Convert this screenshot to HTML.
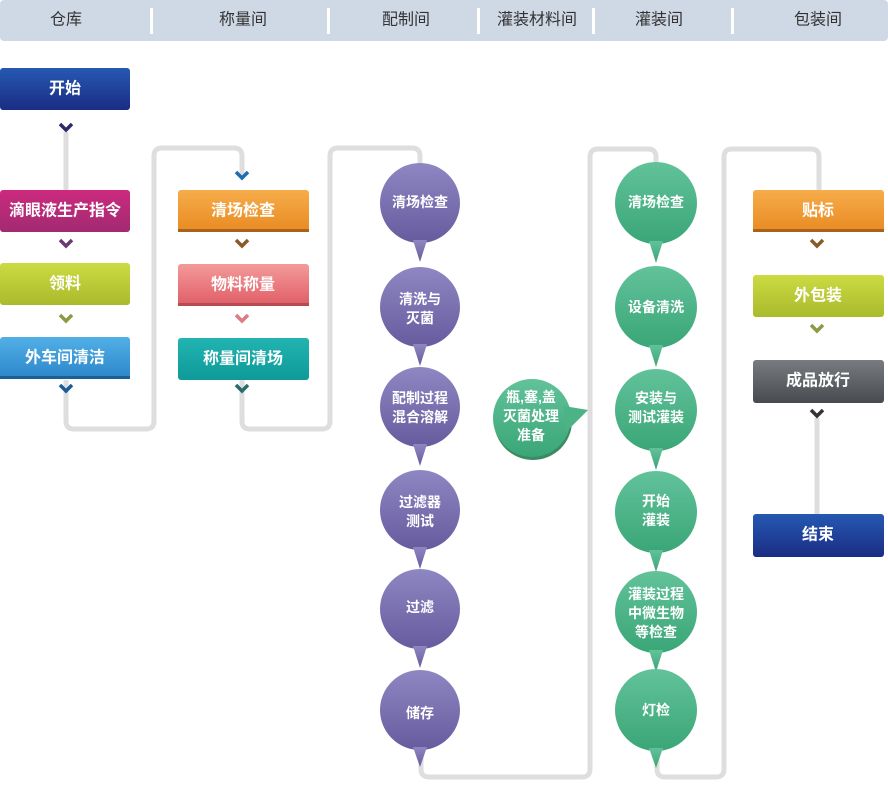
<!DOCTYPE html>
<html><head><meta charset="utf-8"><style>
html,body{margin:0;padding:0;background:#fff;}
svg{display:block;}
text{font-family:"Liberation Sans","Noto Sans CJK SC",sans-serif;}
</style></head><body>
<svg width="888" height="791" viewBox="0 0 888 791" xmlns="http://www.w3.org/2000/svg">
<defs>
<linearGradient id="gBlue" x1="0" y1="0" x2="0" y2="1"><stop offset="0" stop-color="#2559b2"/><stop offset="1" stop-color="#1b2c84"/></linearGradient>
<linearGradient id="gMag" x1="0" y1="0" x2="0" y2="1"><stop offset="0" stop-color="#cc2a7e"/><stop offset="1" stop-color="#a22a70"/></linearGradient>
<linearGradient id="gLime" x1="0" y1="0" x2="0" y2="1"><stop offset="0" stop-color="#ccdb42"/><stop offset="1" stop-color="#a9ba2c"/></linearGradient>
<linearGradient id="gSky" x1="0" y1="0" x2="0" y2="1"><stop offset="0" stop-color="#52b0e6"/><stop offset="1" stop-color="#2a86c9"/></linearGradient>
<linearGradient id="gOr" x1="0" y1="0" x2="0" y2="1"><stop offset="0" stop-color="#f6ad4a"/><stop offset="1" stop-color="#e98a22"/></linearGradient>
<linearGradient id="gPink" x1="0" y1="0" x2="0" y2="1"><stop offset="0" stop-color="#f49a9a"/><stop offset="1" stop-color="#df5d66"/></linearGradient>
<linearGradient id="gTeal" x1="0" y1="0" x2="0" y2="1"><stop offset="0" stop-color="#22b4b2"/><stop offset="1" stop-color="#0e9a98"/></linearGradient>
<linearGradient id="gGray" x1="0" y1="0" x2="0" y2="1"><stop offset="0" stop-color="#787c80"/><stop offset="1" stop-color="#474b4f"/></linearGradient>
<linearGradient id="gPur" x1="0" y1="0" x2="0" y2="1"><stop offset="0" stop-color="#8e87c2"/><stop offset="1" stop-color="#675b9e"/></linearGradient>
<linearGradient id="gGrn" x1="0" y1="0" x2="0" y2="1"><stop offset="0" stop-color="#62c29a"/><stop offset="1" stop-color="#3aa677"/></linearGradient>
</defs>

<!-- header -->
<rect x="0" y="0" width="888" height="41" rx="4" fill="#cfd9e6"/>
<g fill="#ffffff">
<rect x="150" y="8" width="3" height="26"/>
<rect x="327" y="8" width="3" height="26"/>
<rect x="477" y="8" width="3" height="26"/>
<rect x="592" y="8" width="3" height="26"/>
<rect x="731" y="8" width="3" height="26"/>
</g>
<g font-size="16" fill="#333" text-anchor="middle" dominant-baseline="central">
<text x="66" y="20">仓库</text>
<text x="243" y="20">称量间</text>
<text x="406" y="20">配制间</text>
<text x="537" y="20">灌装材料间</text>
<text x="659" y="20">灌装间</text>
<text x="818" y="20">包装间</text>
</g>

<!-- connectors -->
<g fill="none" stroke="#dedede" stroke-width="5" stroke-linejoin="round">
<path d="M66 132 V190"/>
<path d="M66 380 V421 Q66 429 74 429 H146 Q154 429 154 421 V156 Q154 148 162 148 H234 Q242 148 242 156 V176"/>
<path d="M242 380 V421 Q242 429 250 429 H322 Q330 429 330 421 V156 Q330 148 338 148 H412 Q420 148 420 156 V170"/>
<path d="M421 740 V769 Q421 777 429 777 H582 Q590 777 590 769 V157 Q590 149 598 149 H648 Q656 149 656 157 V170"/>
<path d="M657 740 V769 Q657 777 665 777 H716 Q724 777 724 769 V157 Q724 149 732 149 H811 Q819 149 819 157 V190"/>
<path d="M817 418 V514"/>
</g>

<!-- boxes -->
<g>
<rect x="0" y="68" width="130" height="42" rx="3" fill="url(#gBlue)"/>
<rect x="0" y="190" width="130" height="42" rx="3" fill="url(#gMag)"/>
<rect x="0" y="263" width="130" height="42" rx="3" fill="url(#gLime)"/>
<rect x="0" y="337" width="130" height="42" rx="3" fill="url(#gSky)"/>
<rect x="0" y="376" width="130" height="3" fill="#1c5f97"/>
<rect x="178" y="190" width="131" height="42" rx="3" fill="url(#gOr)"/>
<rect x="178" y="229" width="131" height="3" fill="#a8621f"/>
<rect x="178" y="264" width="131" height="42" rx="3" fill="url(#gPink)"/>
<rect x="178" y="303" width="131" height="3" fill="#b84a52"/>
<rect x="178" y="338" width="131" height="42" rx="3" fill="url(#gTeal)"/>
<rect x="753" y="190" width="131" height="42" rx="3" fill="url(#gOr)"/>
<rect x="753" y="229" width="131" height="3" fill="#a8621f"/>
<rect x="753" y="275" width="131" height="42" rx="3" fill="url(#gLime)"/>
<rect x="753" y="360" width="131" height="43" rx="3" fill="url(#gGray)"/>
<rect x="753" y="514" width="131" height="43" rx="3" fill="url(#gBlue)"/>
</g>
<g font-size="16" font-weight="bold" fill="#fff" text-anchor="middle" dominant-baseline="central">
<text x="65" y="89">开始</text>
<text x="65" y="211">滴眼液生产指令</text>
<text x="65" y="284">领料</text>
<text x="65" y="358">外车间清洁</text>
<text x="243" y="211">清场检查</text>
<text x="243" y="285">物料称量</text>
<text x="243" y="359">称量间清场</text>
<text x="818" y="211">贴标</text>
<text x="818" y="296">外包装</text>
<text x="818" y="381">成品放行</text>
<text x="818" y="535">结束</text>
</g>

<!-- chevrons -->
<g fill="none" stroke-width="3.5" stroke-linecap="butt" stroke-linejoin="miter">
<path d="M60 124 L66 130 L72 124" stroke="#2b2a6a"/>
<path d="M60 240 L66 246 L72 240" stroke="#6a3a72"/>
<path d="M60 315 L66 321 L72 315" stroke="#8d9a44"/>
<path d="M60 385 L66 391 L72 385" stroke="#1b5a98"/>
<path d="M236 172 L242 178 L248 172" stroke="#1f6db0"/>
<path d="M236 240 L242 246 L248 240" stroke="#8a5a2c"/>
<path d="M236 315 L242 321 L248 315" stroke="#e07a82"/>
<path d="M236 385 L242 391 L248 385" stroke="#2a6a6e"/>
<path d="M811 240 L817 246 L823 240" stroke="#8a5a2c"/>
<path d="M811 325 L817 331 L823 325" stroke="#8d9a44"/>
<path d="M811 410 L817 416 L823 410" stroke="#333333"/>
</g>

<!-- purple bubbles -->
<g fill="url(#gPur)">
<circle cx="420" cy="203" r="40"/><polygon points="413,240 427,240 420,262"/>
<circle cx="420" cy="307" r="40"/><polygon points="413,344 427,344 420,366"/>
<circle cx="420" cy="407" r="40"/><polygon points="413,444 427,444 420,466"/>
<circle cx="420" cy="510" r="40"/><polygon points="413,547 427,547 420,569"/>
<circle cx="420" cy="609" r="40"/><polygon points="413,646 427,646 420,668"/>
<circle cx="420" cy="710" r="40"/><polygon points="413,747 427,747 420,767"/>
</g>
<!-- green bubbles -->
<g fill="url(#gGrn)">
<circle cx="656" cy="203" r="41"/><polygon points="649,241 663,241 656,263"/>
<circle cx="656" cy="307" r="41"/><polygon points="649,345 663,345 656,367"/>
<circle cx="656" cy="410" r="41"/><polygon points="649,448 663,448 656,470"/>
<circle cx="656" cy="512" r="41"/><polygon points="649,550 663,550 656,572"/>
<circle cx="656" cy="612" r="41"/><polygon points="649,650 663,650 656,672"/>
<circle cx="656" cy="710" r="41"/><polygon points="649,748 663,748 656,768"/>
</g>
<circle cx="533" cy="421" r="39" fill="#3a8a63"/>
<circle cx="532" cy="418" r="39" fill="url(#gGrn)"/>
<polygon points="564,406 588,410 566,432" fill="#4cb386"/>

<g font-size="14" font-weight="bold" fill="#fff" text-anchor="middle" dominant-baseline="central">
<text x="420" y="202">清场检查</text>
<text x="420" y="299">清洗与</text><text x="420" y="318">灭菌</text>
<text x="420" y="398">配制过程</text><text x="420" y="417">混合溶解</text>
<text x="420" y="502">过滤器</text><text x="420" y="521">测试</text>
<text x="420" y="607">过滤</text>
<text x="420" y="713">储存</text>
<text x="656" y="202">清场检查</text>
<text x="656" y="307">设备清洗</text>
<text x="656" y="398">安装与</text><text x="656" y="417">测试灌装</text>
<text x="656" y="501">开始</text><text x="656" y="520">灌装</text>
<text x="656" y="594">灌装过程</text><text x="656" y="613">中微生物</text><text x="656" y="632">等检查</text>
<text x="656" y="710">灯检</text>
<text x="531" y="397">瓶,塞,盖</text><text x="531" y="416">灭菌处理</text><text x="531" y="435">准备</text>
</g>
</svg>
</body></html>
